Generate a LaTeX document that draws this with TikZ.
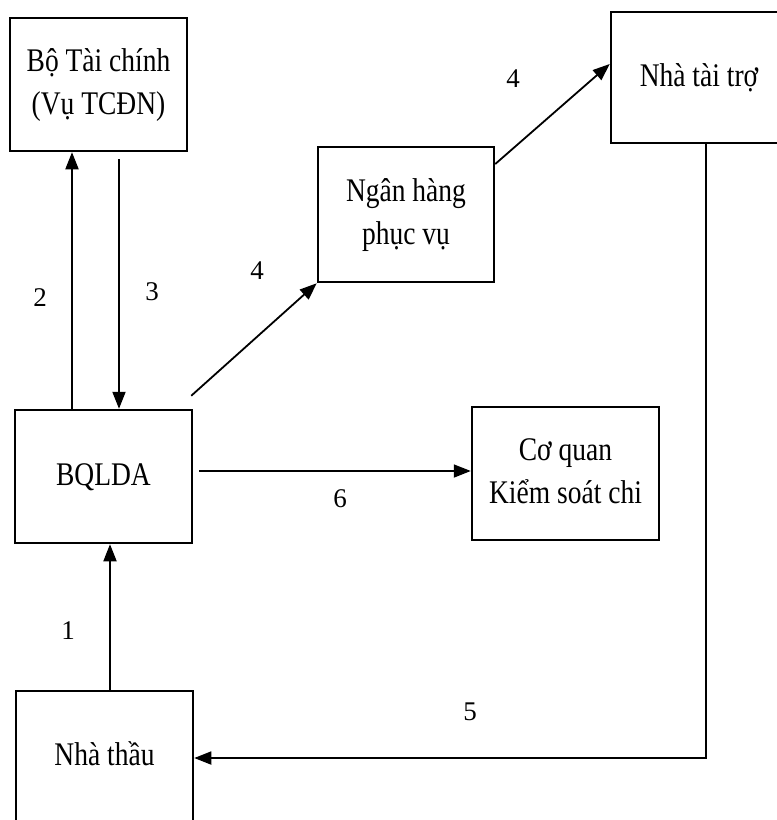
\documentclass[tikz,border=0pt]{standalone}
\usepackage{fontspec}
\setmainfont{Liberation Serif}
\usetikzlibrary{arrows.meta}
\newcommand{\stx}[1]{\scalebox{1}[1.2]{\begin{tabular}{@{}c@{}}#1\end{tabular}}}
\tikzset{
  box/.style={draw, line width=2.5pt, rectangle, inner sep=0pt,
    font=\fontsize{27.5}{35.5}\selectfont},
  arr/.style={line width=1.8pt, -{Triangle[length=17pt,width=13pt]}},
  lbl/.style={font=\fontsize{27}{30}\selectfont, inner sep=0pt}
}
\begin{document}
\begin{tikzpicture}[x=1pt,y=-1pt]
\useasboundingbox (0,0) rectangle (777,820);
\node[box, minimum width=177pt, minimum height=133pt] (btc) at (98.5,84.5) {\stx{Bộ Tài chính\\(Vụ TCĐN)}};
\node[box, minimum width=176pt, minimum height=135pt] (nh) at (406,214.5) {\stx{Ngân hàng\\phục vụ}};
\node[box, minimum width=176pt, minimum height=131pt] (ntt) at (699,77.5) {\stx{Nhà tài trợ}};
\node[box, minimum width=177pt, minimum height=133pt] (bql) at (103.5,476.5) {\stx{BQLDA}};
\node[box, minimum width=187pt, minimum height=133pt] (cq) at (565.5,473.5) {\stx{Cơ quan\\Kiểm soát chi}};
\node[box, minimum width=177pt, minimum height=132pt] (nt) at (104.5,757) {\stx{Nhà thầu}};
\coordinate (c5) at (706,758);
% connectors
\draw[arr] (bql.north -| 72,0) -- (btc.south -| 72,0);
\draw[arr, shorten <=7pt] (btc.south -| 119,0) -- (bql.north -| 119,0);
\draw[arr] ([shift={(-2,-13)}]bql.north east) -- (nh.south west);
\draw[arr] (nh.east |- 0,164) -- (ntt.west |- 0,64);
\draw[arr, shorten <=6pt] (bql.east |- 0,471) -- (cq.west |- 0,471);
\draw[arr] (nt.north -| 110,0) -- (bql.south -| 110,0);
\draw[arr] (ntt.south -| c5) -- (c5) -- (nt.east |- c5);
% labels
\node[lbl] (l2) at (40,298) {2};
\node[lbl] (l3) at (152,292) {3};
\node[lbl] (l4a) at (257,271) {4};
\node[lbl] (l4b) at (513,79) {4};
\node[lbl] (l6) at (340,499) {6};
\node[lbl] (l1) at (68,631) {1};
\node[lbl] (l5) at (470,712) {5};
\end{tikzpicture}
\end{document}
